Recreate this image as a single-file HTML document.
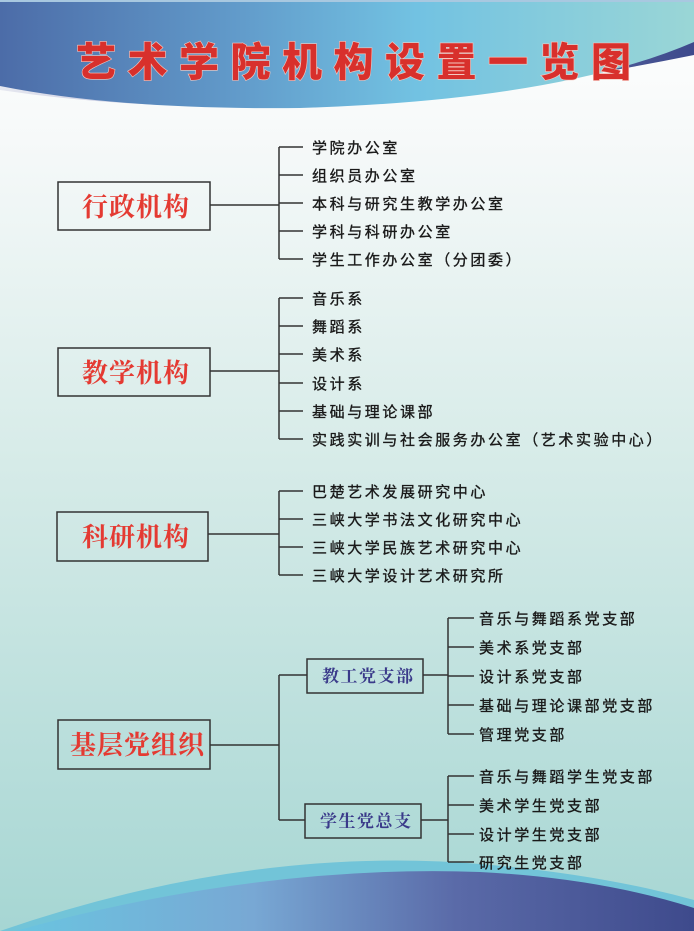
<!DOCTYPE html>
<html><head><meta charset="utf-8"><style>
html,body{margin:0;padding:0;width:694px;height:931px;overflow:hidden}
svg{display:block}
.t{font-family:"Liberation Sans","Noto Sans CJK SC",sans-serif;font-size:15px;letter-spacing:2.6px;fill:#1a1a1a;stroke:#1a1a1a;stroke-width:0.35px}
.b{font-family:"Noto Serif CJK SC","Liberation Serif",serif;font-size:26px;font-weight:bold;letter-spacing:1px;fill:#e43a32}
.s{font-family:"Noto Serif CJK SC","Liberation Serif",serif;font-size:17px;font-weight:bold;letter-spacing:1.5px;fill:#3a3a8a}
.ttl{font-family:"Noto Sans CJK SC","WenQuanYi Zen Hei",sans-serif;font-size:40px;font-weight:900;letter-spacing:11.5px;fill:#d8302c;stroke:#f4c8c0;stroke-width:1.2px;paint-order:stroke}
</style></head><body>
<svg width="694" height="931" viewBox="0 0 694 931" xmlns="http://www.w3.org/2000/svg">
<defs>
<linearGradient id="bg" x1="0" y1="0" x2="0" y2="1">
<stop offset="0" stop-color="#ffffff"/><stop offset="0.15" stop-color="#f6f9f9"/><stop offset="0.5" stop-color="#d6ebe8"/><stop offset="1" stop-color="#a6d6d3"/>
</linearGradient>
<linearGradient id="hd" x1="0" y1="0" x2="1" y2="0">
<stop offset="0" stop-color="#4c6ca8"/><stop offset="0.35" stop-color="#629ccb"/><stop offset="0.6" stop-color="#72c2e2"/><stop offset="1" stop-color="#9ad6d6"/>
</linearGradient>
<linearGradient id="sh" x1="0" y1="0" x2="1" y2="0">
<stop offset="0" stop-color="#e6e8f0"/><stop offset="0.3" stop-color="#b4b8d8"/><stop offset="0.7" stop-color="#6070a8"/><stop offset="1" stop-color="#3e4a8c"/>
</linearGradient>
<linearGradient id="ft" x1="0" y1="0" x2="1" y2="0">
<stop offset="0" stop-color="#6ac4e0"/><stop offset="0.35" stop-color="#78a8d4"/><stop offset="0.65" stop-color="#5a6aa8"/><stop offset="1" stop-color="#3e4a8c"/>
</linearGradient>
</defs>
<rect width="694" height="931" fill="url(#bg)"/>
<path d="M0,90 Q300,135 694,55 L694,20 L0,20 Z" fill="url(#sh)"/>
<path d="M0,0 H694 V42 Q560,100 300,108 Q120,110 0,86 Z" fill="url(#hd)"/>
<path d="M0,0 H694 V2 H0 Z" fill="#a8c8e0"/>
<text class="ttl" x="76" y="76">艺术学院机构设置一览图</text>
<path d="M0,931 Q250,845 480,864 Q600,874 694,900 V931 Z" fill="#72c4d8"/>
<path d="M15,931 Q260,864 480,872 Q600,878 694,908 V931 Z" fill="url(#ft)"/>
<g stroke="#333" stroke-width="1.5" fill="none">
<rect x="58" y="182" width="152" height="48" fill="none"/>
<path d="M210,205 H279 M279,147 V259 M279,147 H303 M279,175 H303 M279,203 H303 M279,231 H303 M279,259 H303"/>
<rect x="58" y="348" width="152" height="48"/>
<path d="M210,371 H279 M279,298 V439 M279,298 H303 M279,326 H303 M279,354 H303 M279,383 H303 M279,411 H303 M279,439 H303"/>
<rect x="57" y="512" width="151" height="49"/>
<path d="M208,534 H279 M279,491 V575 M279,491 H303 M279,519 H303 M279,547 H303 M279,575 H303"/>
<rect x="58" y="720" width="152" height="49"/>
<path d="M210,745 H279 M279,675 V820 M279,675 H307 M279,820 H305"/>
<rect x="307" y="659" width="116" height="34"/>
<rect x="305" y="804" width="116" height="34"/>
<path d="M423,675 H448 M448,618 V734 M448,618 H474 M448,647 H474 M448,676 H474 M448,705 H474 M448,734 H474"/>
<path d="M421,820 H448 M448,776 V862 M448,776 H474 M448,805 H474 M448,834 H474 M448,862 H474"/>
</g>
<text class="b" x="82" y="216">行政机构</text>
<text class="b" x="82" y="382">教学机构</text>
<text class="b" x="82" y="546">科研机构</text>
<text class="b" x="70" y="754">基层党组织</text>
<text class="s" x="322" y="682">教工党支部</text>
<text class="s" x="320" y="827">学生党总支</text>
<g class="t">
<text x="312" y="153">学院办公室</text>
<text x="312" y="181">组织员办公室</text>
<text x="312" y="209">本科与研究生教学办公室</text>
<text x="312" y="237">学科与科研办公室</text>
<text x="312" y="265">学生工作办公室（分团委）</text>
<text x="312" y="304">音乐系</text>
<text x="312" y="332">舞蹈系</text>
<text x="312" y="360">美术系</text>
<text x="312" y="389">设计系</text>
<text x="312" y="417">基础与理论课部</text>
<text x="312" y="445">实践实训与社会服务办公室（艺术实验中心）</text>
<text x="312" y="497">巴楚艺术发展研究中心</text>
<text x="312" y="525">三峡大学书法文化研究中心</text>
<text x="312" y="553">三峡大学民族艺术研究中心</text>
<text x="312" y="581">三峡大学设计艺术研究所</text>
<text x="479" y="624">音乐与舞蹈系党支部</text>
<text x="479" y="653">美术系党支部</text>
<text x="479" y="682">设计系党支部</text>
<text x="479" y="711">基础与理论课部党支部</text>
<text x="479" y="740">管理党支部</text>
<text x="479" y="782">音乐与舞蹈学生党支部</text>
<text x="479" y="811">美术学生党支部</text>
<text x="479" y="840">设计学生党支部</text>
<text x="479" y="868">研究生党支部</text>
</g>
</svg>
</body></html>
